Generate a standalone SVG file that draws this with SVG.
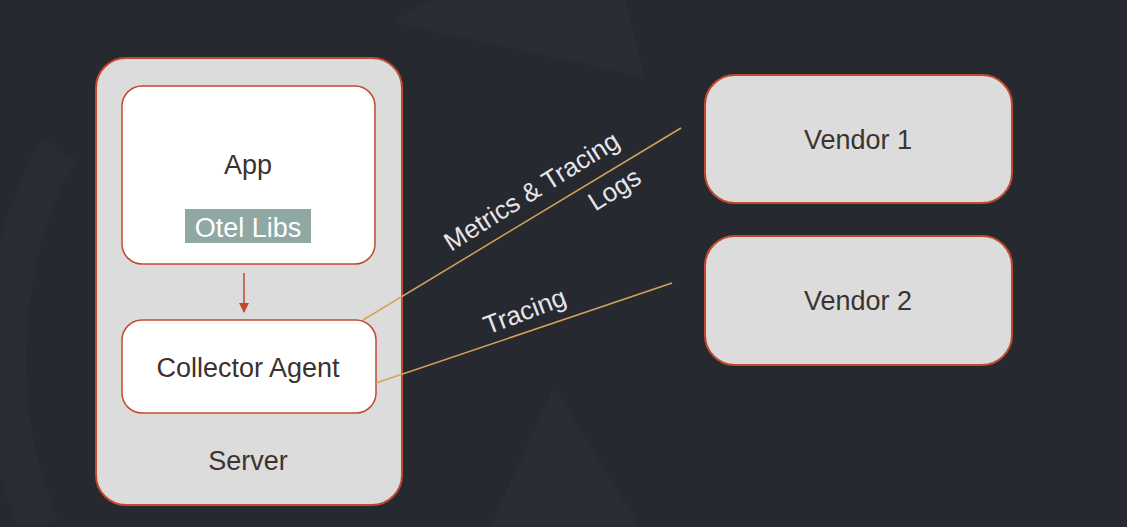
<svg xmlns="http://www.w3.org/2000/svg" width="1127" height="527" viewBox="0 0 1127 527">
<style>
.bg{fill:#262930}
.faint{fill:#2a2d35}
.box{fill:#dcdcdc;stroke:#c2492e;stroke-width:2}
.inner{fill:#ffffff;stroke:#c2492e;stroke-width:1.5}
.t{font-family:"Liberation Sans",Arial,sans-serif;font-size:27px;fill:#3b3330;text-anchor:middle}
.lbl{font-family:"Liberation Sans",Arial,sans-serif;font-size:26px;fill:#e6e6ea;text-anchor:middle}
.link{stroke:#d4a25a;stroke-width:1.5;fill:none}
</style>
<defs>
<marker id="ah" viewBox="0 0 10 10" refX="9" refY="5" markerWidth="10" markerHeight="10" markerUnits="userSpaceOnUse" orient="auto">
<path d="M0,0 L10,5 L0,10 Z" fill="#c2492e"/>
</marker>
</defs>
<rect class="bg" x="0" y="0" width="1127" height="527"/>
<path class="faint" d="M392,22 L431,0 L626,0 L644,77 Z"/>
<path class="faint" d="M554,387 L490,527 L640,527 Z"/>
<path d="M40,527 C-10,420 -5,250 60,150" stroke="#292c34" stroke-width="40" fill="none"/>
<g id="server">
<rect class="box" x="96" y="58" width="306" height="447" rx="30"/>
<text class="t" x="248" y="470">Server</text>
</g>
<g id="app">
<rect class="inner" x="122" y="86" width="253" height="178" rx="20"/>
<text class="t" x="248" y="174">App</text>
<rect x="185" y="209" width="126" height="34" fill="#8fa8a4"/>
<text class="t" x="248" y="237" style="fill:#ffffff">Otel Libs</text>
</g>
<g id="collector">
<rect class="inner" x="122" y="320" width="254" height="93" rx="20"/>
<text class="t" x="248" y="377">Collector Agent</text>
</g>
<g id="vendor1">
<rect class="box" x="705" y="75" width="307" height="128" rx="30"/>
<text class="t" x="858" y="149">Vendor 1</text>
</g>
<g id="vendor2">
<rect class="box" x="705" y="236" width="307" height="129" rx="30"/>
<text class="t" x="858" y="310">Vendor 2</text>
</g>
<g id="connectors">
<line x1="244" y1="273" x2="244" y2="312" stroke="#c2492e" stroke-width="1.5" marker-end="url(#ah)"/>
<line class="link" x1="363" y1="320" x2="681" y2="128"/>
<line class="link" x1="376" y1="383" x2="672" y2="283"/>
<text class="lbl" transform="translate(532,192) rotate(-32)" y="8">Metrics &amp; Tracing</text>
<text class="lbl" transform="translate(615,190) rotate(-32)" y="8">Logs</text>
<text class="lbl" transform="translate(525,312) rotate(-21)" y="8">Tracing</text>
</g>
</svg>
